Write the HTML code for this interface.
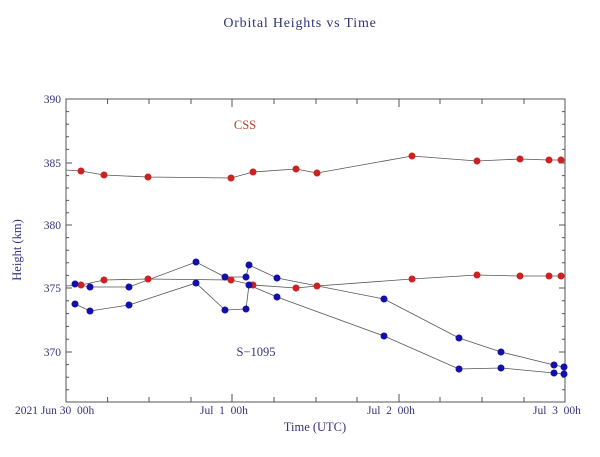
<!DOCTYPE html>
<html><head><style>
body{margin:0;background:#fff;}
svg text{font-family:"Liberation Serif",serif;white-space:pre;}
</style></head><body>
<svg width="600" height="452" viewBox="0 0 600 452" xmlns="http://www.w3.org/2000/svg" xml:space="preserve">
<rect width="600" height="452" fill="#fff"/>
<text x="300" y="27" text-anchor="middle" font-size="14" fill="#33337a" letter-spacing="0.8">Orbital Heights vs Time</text>
<rect x="66" y="99" width="499" height="303" fill="none" stroke="#555" stroke-width="1"/>
<g stroke="#555" stroke-width="1">
<path d="M66 99h6M66 163h6M66 225h6M66 288h6M66 352h6M565 99h-6M565 163h-6M565 225h-6M565 288h-6M565 352h-6"/>
<path d="M66 111.6h3M66 124.2h3M66 136.8h3M66 149.4h3M66 175.6h3M66 188h3M66 200.4h3M66 212.8h3M66 237.6h3M66 250.2h3M66 262.8h3M66 275.4h3M66 300.8h3M66 313.6h3M66 326.4h3M66 339.2h3M66 364.6h3M66 377.2h3M66 389.8h3
M565 111.6h-3M565 124.2h-3M565 136.8h-3M565 149.4h-3M565 175.6h-3M565 188h-3M565 200.4h-3M565 212.8h-3M565 237.6h-3M565 250.2h-3M565 262.8h-3M565 275.4h-3M565 300.8h-3M565 313.6h-3M565 326.4h-3M565 339.2h-3M565 364.6h-3M565 377.2h-3M565 389.8h-3"/>
<path d="M107.6 402v-5M149 402v-5M191 402v-5M232 402v-8M274 402v-5M316 402v-5M357 402v-5M399 402v-8M440 402v-5M482 402v-5M524 402v-5
M107.6 99v5M149 99v5M191 99v5M232 99v8M274 99v5M316 99v5M357 99v5M399 99v8M440 99v5M482 99v5M524 99v5"/>
</g>
<g font-size="11.5" fill="#33337a" text-anchor="end">
<text x="61" y="103">390</text><text x="61" y="167">385</text><text x="61" y="229">380</text><text x="61" y="292">375</text><text x="61" y="356">370</text>
</g>
<g font-size="11.5" fill="#33337a">
<text x="15" y="414">2021 Jun 30  00h</text>
<text x="200" y="414">Jul  1  00h</text>
<text x="367" y="414">Jul  2  00h</text>
<text x="533" y="414">Jul  3  00h</text>
</g>
<text x="315" y="431" text-anchor="middle" font-size="12.5" fill="#33337a">Time (UTC)</text>
<text transform="translate(21,250) rotate(-90)" text-anchor="middle" font-size="12.5" fill="#33337a">Height (km)</text>
<text x="245" y="129" text-anchor="middle" font-size="12.5" fill="#b04030">CSS</text>
<text x="256" y="356" text-anchor="middle" font-size="12.5" fill="#33337a">S−1095</text>
<g fill="none" stroke="#555" stroke-width="0.8">
<polyline points="66,170 81,171 104,175 148,177 231,178 253,172 296,169 317,173 412,156 477,161 520,159 549,160 561,160"/>
<polyline points="66,286 81,285 104,280 148,279 231,280 253,285 296,288 317,286 412,279 477,275 520,276 549,276 561,276"/>
<polyline points="75,284 90,287 129,287 196,262 225,277 246,277 249,265 277,278 384,299 459,338 501,352 554,365 564,367"/>
<polyline points="75,304 90,311 129,305 196,283 225,310 246,309 249,285 277,297 384,336 459,369 501,368 554,373 564,374"/>
</g>
<g fill="#cc2222">
<circle cx="81" cy="171" r="3.5"/><circle cx="104" cy="175" r="3.5"/><circle cx="148" cy="177" r="3.5"/><circle cx="231" cy="178" r="3.5"/><circle cx="253" cy="172" r="3.5"/><circle cx="296" cy="169" r="3.5"/><circle cx="317" cy="173" r="3.5"/><circle cx="412" cy="156" r="3.5"/><circle cx="477" cy="161" r="3.5"/><circle cx="520" cy="159" r="3.5"/><circle cx="549" cy="160" r="3.5"/><circle cx="561" cy="160" r="3.5"/>
<circle cx="81" cy="285" r="3.5"/><circle cx="104" cy="280" r="3.5"/><circle cx="148" cy="279" r="3.5"/><circle cx="231" cy="280" r="3.5"/><circle cx="253" cy="285" r="3.5"/><circle cx="296" cy="288" r="3.5"/><circle cx="317" cy="286" r="3.5"/><circle cx="412" cy="279" r="3.5"/><circle cx="477" cy="275" r="3.5"/><circle cx="520" cy="276" r="3.5"/><circle cx="549" cy="276" r="3.5"/><circle cx="561" cy="276" r="3.5"/>
</g>
<g fill="#1111aa">
<circle cx="75" cy="284" r="3.5"/><circle cx="90" cy="287" r="3.5"/><circle cx="129" cy="287" r="3.5"/><circle cx="196" cy="262" r="3.5"/><circle cx="225" cy="277" r="3.5"/><circle cx="246" cy="277" r="3.5"/><circle cx="249" cy="265" r="3.5"/><circle cx="277" cy="278" r="3.5"/><circle cx="384" cy="299" r="3.5"/><circle cx="459" cy="338" r="3.5"/><circle cx="501" cy="352" r="3.5"/><circle cx="554" cy="365" r="3.5"/><circle cx="564" cy="367" r="3.5"/>
<circle cx="75" cy="304" r="3.5"/><circle cx="90" cy="311" r="3.5"/><circle cx="129" cy="305" r="3.5"/><circle cx="196" cy="283" r="3.5"/><circle cx="225" cy="310" r="3.5"/><circle cx="246" cy="309" r="3.5"/><circle cx="249" cy="285" r="3.5"/><circle cx="277" cy="297" r="3.5"/><circle cx="384" cy="336" r="3.5"/><circle cx="459" cy="369" r="3.5"/><circle cx="501" cy="368" r="3.5"/><circle cx="554" cy="373" r="3.5"/><circle cx="564" cy="374" r="3.5"/>
</g>
</svg>
</body></html>
